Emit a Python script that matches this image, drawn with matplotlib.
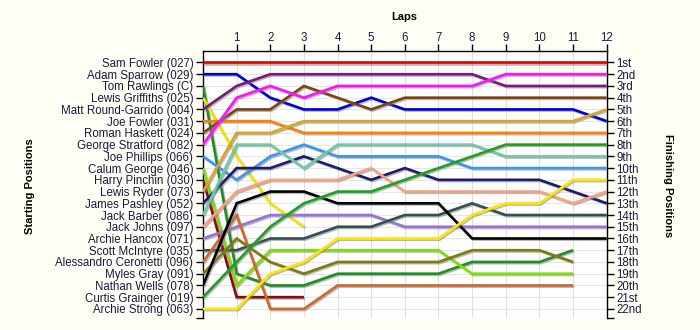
import matplotlib
matplotlib.use("Agg")
import matplotlib.pyplot as plt
import matplotlib.patheffects as pe

plt.rcParams['font.family'] = ['Liberation Sans', 'DejaVu Sans']

# Drivers in starting order
drivers = [
    "Sam Fowler (027)", "Adam Sparrow (029)", "Tom Rawlings (C)",
    "Lewis Griffiths (025)", "Matt Round-Garrido (004)", "Joe Fowler (031)",
    "Roman Haskett (024)", "George Stratford (082)", "Joe Phillips (066)",
    "Calum George (046)", "Harry Pinchin (030)", "Lewis Ryder (073)",
    "James Pashley (052)", "Jack Barber (086)", "Jack Johns (097)",
    "Archie Hancox (071)", "Scott McIntyre (035)", "Alessandro Ceronetti (096)",
    "Myles Gray (091)", "Nathan Wells (078)", "Curtis Grainger (019)",
    "Archie Strong (063)",
]

# Race position at the end of each lap (index 0 = grid position)
sam_fowler = [1, 1, 1, 1, 1, 1, 1, 1, 1, 1, 1, 1, 1]
adam_sparrow = [2, 2, 4, 5, 5, 4, 5, 5, 5, 5, 5, 5, 6]
tom_rawlings = [3, 19, 20, 20, 19, 19, 19, 19, 18, 18, 18, 17]
lewis_griffiths = [4, 9, 13, 15]
matt_round_garrido = [5, 3, 2, 2, 2, 2, 2, 2, 2, 3, 3, 3, 3]
joe_fowler = [6, 6, 6, 7, 7, 7, 7, 7, 7, 7, 7, 7, 7]
roman_haskett = [7, 5, 5, 3, 4, 5, 4, 4, 4, 4, 4, 4, 4]
george_stratford = [8, 4, 3, 4, 3, 3, 3, 3, 3, 2, 2, 2, 2]
joe_phillips = [9, 11, 9, 8, 9, 9, 9, 9, 10, 10, 10, 10, 10]
calum_george = [10, 20, 17, 17, 17, 17, 17, 17, 19, 19, 19, 19]
harry_pinchin = [11, 21, 21, 21]
lewis_ryder = [12, 7, 7, 6, 6, 6, 6, 6, 6, 6, 6, 6, 5]
james_pashley = [13, 10, 10, 9, 10, 11, 10, 11, 11, 11, 11, 12, 13]
jack_barber = [14, 8, 8, 10, 8, 8, 8, 8, 8, 9, 9, 9, 9]
jack_johns = [15, 12, 11, 11, 11, 10, 12, 12, 12, 12, 12, 13, 12]
archie_hancox = [16, 15, 14, 14, 14, 14, 15, 15, 15, 15, 15, 15, 15]
scott_mcintyre = [17, 17, 16, 16, 15, 15, 14, 14, 13, 14, 14, 14, 14]
alessandro_ceronetti = [18, 14, 22, 22, 20, 20, 20, 20, 20, 20, 20, 20]
myles_gray = [19, 16, 18, 19, 18, 18, 18, 18, 17, 17, 17, 18]
nathan_wells = [20, 13, 12, 12, 13, 13, 13, 13, 16, 16, 16, 16, 16]
curtis_grainger = [21, 18, 15, 13, 12, 12, 11, 10, 9, 8, 8, 8, 8]
archie_strong = [22, 22, 19, 18, 16, 16, 16, 16, 14, 13, 13, 11, 11]

lap_positions = [
    sam_fowler, adam_sparrow, tom_rawlings, lewis_griffiths,
    matt_round_garrido, joe_fowler, roman_haskett, george_stratford,
    joe_phillips, calum_george, harry_pinchin, lewis_ryder, james_pashley,
    jack_barber, jack_johns, archie_hancox, scott_mcintyre,
    alessandro_ceronetti, myles_gray, nathan_wells, curtis_grainger,
    archie_strong,
]

lap_labels = [str(i) for i in range(1, 13)]
finish_labels = ["1st", "2nd", "3rd"] + [f"{i}th" for i in range(4, 21)] + ["21st", "22nd"]

colors = [
    "#e00000", "#0000dd", "#1f8f1f", "#f2e600", "#7a1a7a", "#ff7f00",
    "#7a4510", "#ff10ff", "#3a96f5", "#7fe000", "#8b0a0a", "#d8a626",
    "#1c1c6e", "#6ec9a6", "#f7a082", "#9473da", "#335050", "#d0682a",
    "#7d7a10", "#000000", "#1ea11e", "#ffe600",
]

text_color = "#1a1a40"
bg = "#fffef4"

fig = plt.figure(figsize=(7, 3.3), dpi=100, facecolor=bg)
ax = fig.add_axes([0.29, 0.0355, 0.5767, 0.8107])
ax.set_facecolor("white")

shadow = [pe.SimpleLineShadow(offset=(0.9, -0.9), shadow_color="#808080", alpha=0.55),
          pe.Normal()]

for pos, col in zip(lap_positions, colors):
    ax.plot(range(len(pos)), pos, color=col, lw=1.9, solid_joinstyle="miter",
            solid_capstyle="butt", path_effects=shadow, zorder=3)

ax.set_xlim(0, 12)
ax.set_ylim(22.8, 0)

# grid
for x in range(1, 12):
    ax.axvline(x, color="#e0e0e0", lw=0.8, zorder=1)
for y in range(1, 23):
    ax.axhline(y, color="#e6e6e6", lw=0.8, zorder=1)

ax.spines["bottom"].set_visible(False)
for s in ("left", "right", "top"):
    ax.spines[s].set_color("black")
    ax.spines[s].set_linewidth(1.0)

ax.xaxis.tick_top()
ax.set_xticks(range(1, 13))
ax.set_xticklabels(lap_labels)
ax.tick_params(axis="x", direction="out", length=5, width=1, pad=0,
               labelsize=8.3, colors="black", labelcolor=text_color)

ax.set_yticks(list(range(1, 23)) + [22.8])
ax.set_yticklabels(drivers + [""])
ax.tick_params(axis="y", direction="out", length=5, width=1, pad=2,
               labelsize=8.3, colors="black", labelcolor=text_color)

ax2 = ax.twinx()
ax2.set_ylim(22.8, 0)
ax2.set_yticks(list(range(1, 23)) + [22.8])
ax2.set_yticklabels(finish_labels + [""])
ax2.tick_params(axis="y", direction="out", length=5, width=1, pad=2,
                labelsize=8.3, colors="black", labelcolor=text_color)
for s in ax2.spines.values():
    s.set_visible(False)

fig.text(404 / 700, 1 - 17 / 330, "Laps", ha="center", va="center",
         fontsize=8, fontweight="bold", color="black")
fig.text(30 / 700, 1 - 186 / 330, "Starting Positions", ha="center", va="center",
         rotation=90, fontsize=8, fontweight="bold", color="black")
fig.text(668 / 700, 1 - 186 / 330, "Finishing Positions", ha="center", va="center",
         rotation=270, fontsize=8, fontweight="bold", color="black")

fig.savefig("out.png", dpi=100, facecolor=bg)
